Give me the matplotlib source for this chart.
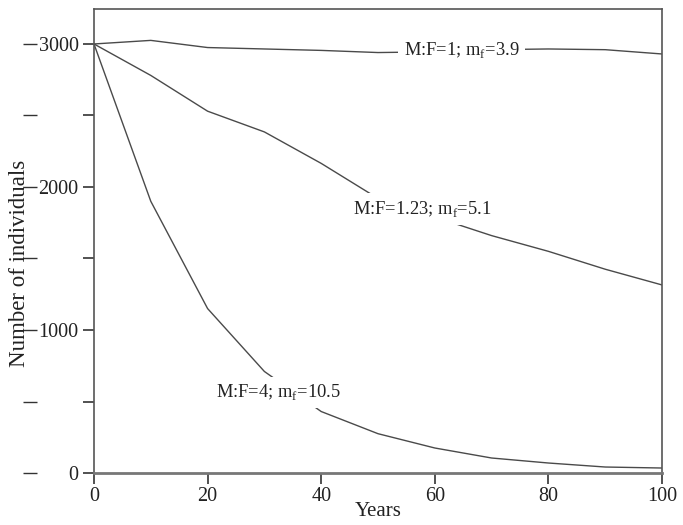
import matplotlib

matplotlib.use("Agg")
import matplotlib.pyplot as plt
from matplotlib.ticker import MultipleLocator

plt.rcParams["font.family"] = ["Liberation Serif", "DejaVu Serif"]
plt.rcParams["mathtext.fontset"] = "custom"
plt.rcParams["mathtext.rm"] = "Liberation Serif"

years = [0, 10, 20, 30, 40, 50, 60, 70, 80, 90, 100]
mf_1 = [3000, 3025, 2975, 2965, 2955, 2940, 2945, 2960, 2965, 2960, 2930]
mf_123 = [3000, 2780, 2530, 2385, 2165, 1920, 1790, 1660, 1550, 1425, 1315]
mf_4 = [3000, 1900, 1150, 710, 430, 275, 175, 105, 70, 42, 35]

labels = [
    r"M:F=1; m$_\mathrm{f}$=3.9",
    r"M:F=1.23; m$_\mathrm{f}$=5.1",
    r"M:F=4; m$_\mathrm{f}$=10.5",
]
label_pos = [(64.7, 2955), (57.7, 1846), (32.5, 566)]

line_color = "#4a4a4a"
fig = plt.figure(figsize=(6.83, 5.25), dpi=100)
ax = fig.add_axes([0.1376, 0.099, 0.8317, 0.884])

for ys in (mf_1, mf_123, mf_4):
    ax.plot(years, ys, color=line_color, linewidth=1.0, zorder=2)

for text, (x, y) in zip(labels, label_pos):
    ax.text(
        x, y, text, fontsize=13.3, ha="center", va="center", color="#222222",
        bbox=dict(facecolor="white", edgecolor="none", pad=4), zorder=3,
    )

ax.set_xlim(0, 100)
ax.set_ylim(0, 3245)
ax.set_xticks([0, 20, 40, 60, 80, 100])
ax.yaxis.set_major_locator(MultipleLocator(1000))
ax.yaxis.set_minor_locator(MultipleLocator(500))
ax.tick_params(axis="both", which="both", direction="out", length=8,
               width=1.2, color="#333333", labelsize=14.5, labelcolor="#222222")
ax.tick_params(axis="x", pad=2)
ax.tick_params(axis="y", pad=3)

# second set of dashes to the left of the y labels
sec = ax.secondary_yaxis(-0.113)
sec.spines["left"].set_visible(False)
sec.yaxis.set_major_locator(MultipleLocator(500))
sec.tick_params(axis="y", direction="inout", length=10, width=1.0,
                color="#333333", labelleft=False)

for side in ("left", "right", "top", "bottom"):
    ax.spines[side].set_color("#555555")
    ax.spines[side].set_linewidth(1.2)
ax.spines["bottom"].set_linewidth(2)
ax.spines["bottom"].set_color("#777777")

ax.set_xlabel("Years", fontsize=15, color="#222222")
ax.set_ylabel("Number of individuals", fontsize=16.5, color="#222222")
ax.xaxis.set_label_coords(0.5, -0.062)
ax.yaxis.set_label_coords(-0.112, 0.4526)

fig.savefig("out.png", dpi=100)
